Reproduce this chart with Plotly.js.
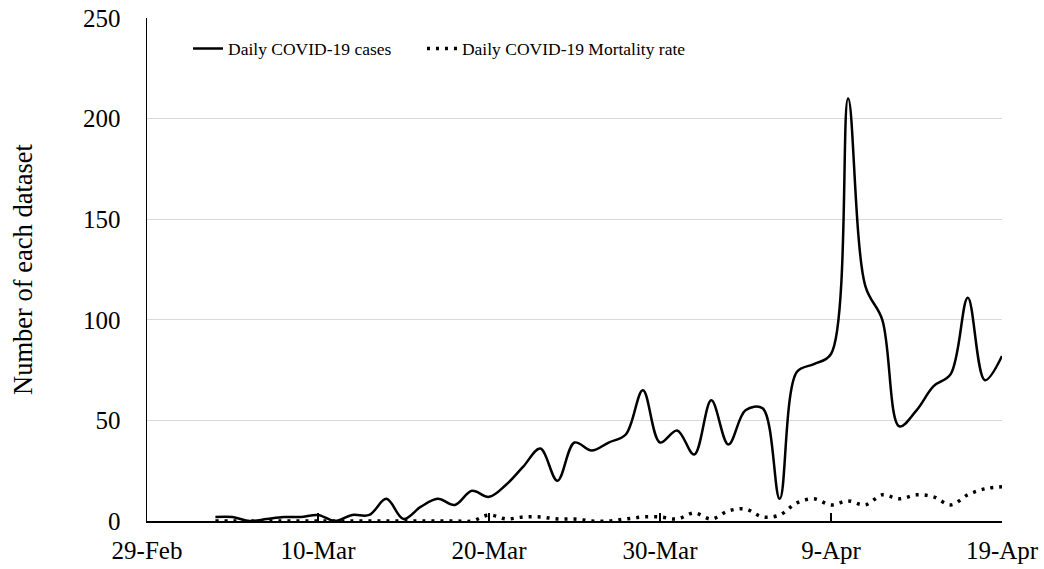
<!DOCTYPE html>
<html>
<head>
<meta charset="utf-8">
<script src="https://cdn.plot.ly/plotly-3.0.1.min.js"></script>
<style>html,body{margin:0;padding:0;background:#fff;}#chart{width:1044px;height:569px;}</style>
</head>
<body>
<div id="chart"></div>
<script>
var dates = [
  '2020-03-04','2020-03-05','2020-03-06','2020-03-07','2020-03-08','2020-03-09','2020-03-10',
  '2020-03-11','2020-03-12','2020-03-13','2020-03-14','2020-03-15','2020-03-16','2020-03-17',
  '2020-03-18','2020-03-19','2020-03-20','2020-03-21','2020-03-22','2020-03-23','2020-03-24',
  '2020-03-25','2020-03-26','2020-03-27','2020-03-28','2020-03-29','2020-03-30','2020-03-31',
  '2020-04-01','2020-04-02','2020-04-03','2020-04-04','2020-04-05','2020-04-06','2020-04-07',
  '2020-04-08','2020-04-09','2020-04-10','2020-04-11','2020-04-12','2020-04-13','2020-04-14',
  '2020-04-15','2020-04-16','2020-04-17','2020-04-18','2020-04-19'
];
var dailyCases = [
  2, 2, 0, 1, 2, 2, 3,
  0, 3, 3, 11, 1, 7, 11,
  8, 15, 12, 18, 27, 36, 20,
  39, 35, 39, 43, 65, 39, 45,
  33, 60, 38, 55, 56, 11, 74,
  78, 83, 210, 117, 100, 47, 55,
  67, 73, 111, 70, 82
];
var dailyMortality = [
  0, 0, 0, 0, 0, 0, 0,
  0, 0, 0, 0, 0, 0, 0,
  0, 0, 3, 1, 2, 2, 1,
  1, 0, 0, 1, 2, 2, 1,
  4, 1, 5, 6, 2, 3, 9,
  11, 8, 10, 8, 13, 11, 13,
  12, 8, 13, 16, 17
];
var tickDates = ['2020-02-29','2020-03-10','2020-03-20','2020-03-30','2020-04-09','2020-04-19'];
var tickLabels = ['29-Feb','10-Mar','20-Mar','30-Mar','9-Apr','19-Apr'];
var yTicks = [0, 50, 100, 150, 200, 250];

var serif = 'Liberation Serif, Times New Roman, serif';

var traces = [
  {
    x: dates, y: dailyCases, type: 'scatter', mode: 'lines',
    name: 'Daily COVID-19 cases', legend: 'legend',
    line: {color: '#000000', width: 2.5, shape: 'spline', smoothing: 1}
  },
  {
    x: dates, y: dailyMortality, type: 'scatter', mode: 'lines',
    name: 'Daily COVID-19 Mortality rate', legend: 'legend2',
    line: {color: '#000000', width: 3.5, dash: '3px,6px', shape: 'spline', smoothing: 1}
  }
];

var legendFont = {family: serif, size: 17.5, color: '#000000'};

var layout = {
  width: 1044, height: 569,
  margin: {l: 147, r: 42, t: 18, b: 48},
  paper_bgcolor: '#ffffff', plot_bgcolor: '#ffffff',
  font: {family: serif, color: '#000000', size: 25},
  showlegend: true,
  legend: {
    orientation: 'h', x: 0.048, y: 0.975, xanchor: 'left', yanchor: 'top',
    font: legendFont, bgcolor: 'rgba(0,0,0,0)'
  },
  legend2: {
    orientation: 'h', x: 0.3216, y: 0.975, xanchor: 'left', yanchor: 'top',
    font: legendFont, bgcolor: 'rgba(0,0,0,0)'
  },
  xaxis: {
    type: 'date',
    range: ['2020-02-29', '2020-04-19'],
    tickmode: 'array', tickvals: tickDates, ticktext: tickLabels,
    showline: true, linecolor: '#000000', linewidth: 1.5,
    ticks: 'inside', ticklen: 8, tickwidth: 1.5, tickcolor: '#000000',
    showgrid: false, zeroline: false,
    tickfont: {family: serif, size: 25, color: '#000000'},
    ticklabelstandoff: 6
  },
  yaxis: {
    range: [0, 250],
    tickmode: 'array', tickvals: yTicks,
    showline: true, linecolor: '#000000', linewidth: 1.5,
    ticks: '', showgrid: true, gridcolor: '#d9d9d9', gridwidth: 1,
    zeroline: false,
    tickfont: {family: serif, size: 25, color: '#000000'},
    ticklabelstandoff: 20,
    title: {text: 'Number of each dataset', font: {family: serif, size: 26.5, color: '#000000'}, standoff: 42}
  }
};

Plotly.newPlot('chart', traces, layout, {displayModeBar: false, staticPlot: true});
</script>
</body>
</html>
